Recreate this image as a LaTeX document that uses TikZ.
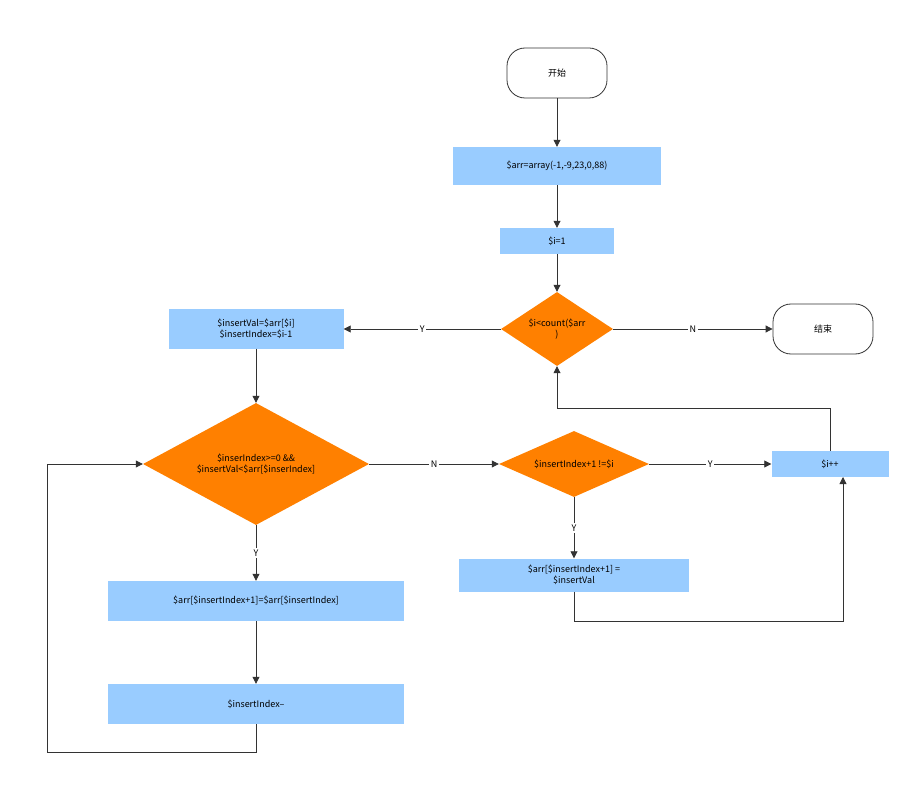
\documentclass[tikz,border=0pt]{standalone}
\usepackage{fontspec}
\setmainfont{Noto Sans CJK SC}
\usetikzlibrary{shapes.geometric,arrows.meta}
\definecolor{bx}{HTML}{99CCFF}
\definecolor{dm}{HTML}{FF8000}
\definecolor{ln}{HTML}{333333}
\begin{document}
\begin{tikzpicture}[x=1pt,y=-1pt,
  every node/.style={font=\fontsize{9}{11}\selectfont,align=center,inner sep=0pt},
  term/.style={draw=ln,thick,rounded corners=18pt,minimum width=100pt,minimum height=50pt},
  box/.style={fill=bx,minimum width=#1,draw=none},
  dia/.style={diamond,fill=dm,aspect=1},
  arr/.style={draw=ln,thick,-{Triangle[length=7pt,width=7pt]}},
  lab/.style={fill=white,inner sep=1.5pt}]
\useasboundingbox (0,0) rectangle (921,786);
\node[term] (start) at (557,73) {开始};
\node[box=208pt,minimum height=38pt] (a) at (557,166) {\$arr=array(-1,-9,23,0,88)};
\node[box=114pt,minimum height=26pt] (i1) at (557,241) {\$i=1};
\node[dia,minimum width=112pt,minimum height=74pt,diamond,shape aspect=1.5] (d1) at (557,329) {};
\node at (557,329) {\$i<count(\$arr\\)};
\node[term] (end) at (823,329) {结束};
\node[box=175pt,minimum height=39pt] (iv) at (256,329) {\$insertVal=\$arr[\$i]\\\$insertIndex=\$i-1};
\node[dia,minimum width=226pt,minimum height=122pt,shape aspect=1.85] (d2) at (256,464) {};
\node at (256,464) {\$inserIndex>=0 \&\&\\\$insertVal<\$arr[\$inserIndex]};
\node[dia,minimum width=150pt,minimum height=66pt,shape aspect=2.27] (d3) at (574,464) {};
\node at (574,464) {\$insertIndex+1 !=\$i};
\node[box=117pt,minimum height=26pt] (ipp) at (830,464) {\$i++};
\node[box=230pt,minimum height=33pt] (a2) at (574,575) {\$arr[\$insertIndex+1] =\\\$insertVal};
\node[box=296pt,minimum height=40pt] (b3) at (256,601) {\$arr[\$insertIndex+1]=\$arr[\$insertIndex]};
\node[box=296pt,minimum height=40pt] (b4) at (256,704) {\$insertIndex--};
\draw[arr] (start) -- (a);
\draw[arr] (a) -- (i1);
\draw[arr] (i1) -- (d1.north);
\draw[arr] (d1.west) -- node[lab,pos=0.5]{Y} (iv);
\draw[arr] (d1.east) -- node[lab]{N} (end);
\draw[arr] (iv) -- (d2.north);
\draw[arr] (d2.east) -- node[lab]{N} (d3.west);
\draw[arr] (d2.south) -- node[lab]{Y} (b3);
\draw[arr] (b3) -- (b4);
\draw[arr] (b4.south) |- (47,752) |- (d2.west);
\draw[arr] (d3.east) -- node[lab]{Y} (ipp);
\draw[arr] (d3.south) -- node[lab]{Y} (a2);
\coordinate (ib) at (843,477);
\draw[arr] (a2.south) |- (843,621) -- (ib);
\draw[arr] (ipp.north) |- (557,408) -- (d1.south);
\end{tikzpicture}
\end{document}
